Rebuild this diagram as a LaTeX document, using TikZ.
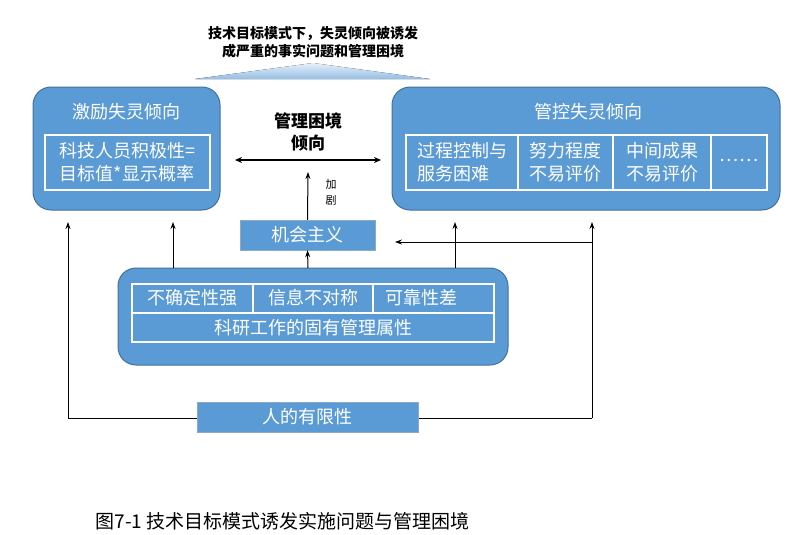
\documentclass[tikz,border=0pt]{standalone}
\usepackage{fontspec}
\setmainfont{Noto Sans CJK SC}
\usetikzlibrary{arrows.meta}
\definecolor{bl}{HTML}{5B9BD5}
\definecolor{bd}{HTML}{41719C}
\begin{document}
\begin{tikzpicture}[x=1pt,y=-1pt,
  big/.style={draw=bd,fill=bl,rounded corners=18pt,line width=1pt},
  cell/.style={draw=white,line width=1.2pt},
  wt/.style={text=white,font=\fontsize{18}{21}\selectfont,align=center,inner sep=0},
  two/.style={font=\fontsize{18}{23}\selectfont},
  lab/.style={draw=bd!60,fill=bl,text=white,font=\fontsize{18}{20}\selectfont,inner sep=0},
  ar/.style={-{Stealth[length=7pt,width=5pt]},line width=1pt}]
\useasboundingbox (0,0) rectangle (800,535);
% top note
\fill[top color=bl!15,bottom color=bl!65] (195,79) -- (313,63) -- (430,79) -- cycle;
\node[font=\bfseries\fontsize{14}{18}\selectfont,align=center] (note) at (313,42) {技术目标模式下，失灵倾向被诱发\\成严重的事实问题和管理困境};
% left box
\draw[big] (33,87) rectangle (220,210);
\node[wt] (lt) at (126,112) {激励失灵倾向};
\draw[cell] (45,135) rectangle (210,190);
\node[wt,two] (lx) at (127,162) {科技人员积极性=\\目标值*显示概率};
% right box
\draw[big] (392,87) rectangle (780,210);
\node[wt] (rt) at (588,112) {管控失灵倾向};
\draw[cell] (406,135) rectangle (767,190);
\draw[cell] (518,135) -- (518,190) (613,135) -- (613,190) (711,135) -- (711,190);
\node[wt,two,align=left] (r1) at (462,162) {过程控制与\\服务困难};
\node[wt,two] (r2) at (565,162) {努力程度\\不易评价};
\node[wt,two] (r3) at (662,162) {中间成果\\不易评价};
\node[wt] (r4) at (739,160) {……};
% middle
\node[font=\bfseries\fontsize{17}{22}\selectfont,align=center] (mid) at (308,132) {管理困境\\倾向};
\coordinate (ml) at (235,160); \coordinate (mr) at (381,160);
\draw[{Stealth[length=7pt,width=6pt]}-{Stealth[length=7pt,width=6pt]},line width=1.3pt] (ml) -- (mr);
\node[lab,minimum width=135pt,minimum height=30pt] (jh) at (307.5,235) {机会主义};
\draw[ar] (jh.north) -- (308,172);
\node[font=\fontsize{11}{16}\selectfont,align=center] (jj) at (331,192) {加\\剧};
% bottom box
\draw[big] (118,268) rectangle (508,365);
\draw[cell] (132,284) rectangle (494,342);
\draw[cell] (132,313) -- (494,313) (253,284) -- (253,313) (373,284) -- (373,313);
\node[wt] (b1) at (192,298) {不确定性强};
\node[wt] (b2) at (313,298) {信息不对称};
\node[wt] (b3) at (421,298) {可靠性差};
\node[wt] (b4) at (313,328) {科研工作的固有管理属性};
\coordinate (bt) at (308,268);
\draw[ar] (bt) -- (jh.south);
% human limit
\coordinate (c1) at (68,418); \coordinate (c2) at (592,418);
\draw[line width=0.9pt] (c1) -- (c2);
\node[lab,minimum width=221pt,minimum height=30pt] (hl) at (307.5,417) {人的有限性};
\draw[ar] (c1) -- (68,222);
\draw[ar] (c2) -- (592,222);
\draw[ar] (173,268) -- (173,222);
\draw[ar] (455,268) -- (455,222);
\draw[ar] (592,242) -- (395,242);
% caption
\node[anchor=west,font=\fontsize{19}{22}\selectfont] (cap) at (92,521) {图7-1\ 技术目标模式诱发实施问题与管理困境};
\end{tikzpicture}
\end{document}
